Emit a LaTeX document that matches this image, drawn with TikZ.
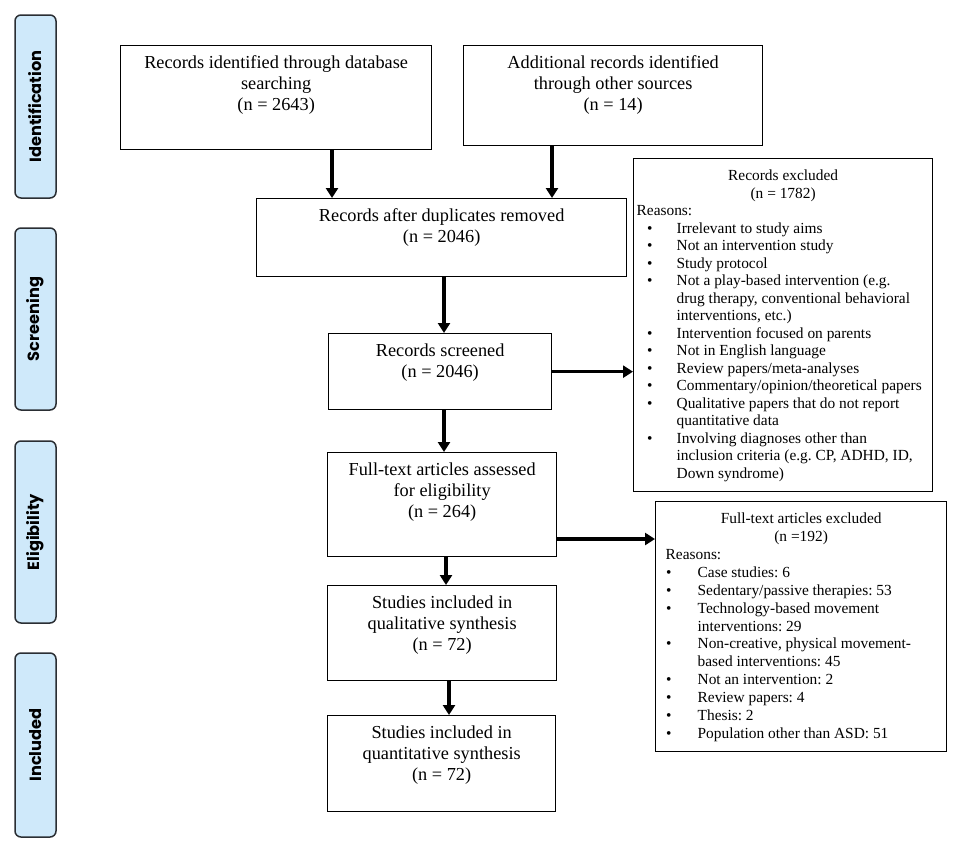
\documentclass[tikz,border=0pt]{standalone}
\usepackage{fontspec}
\setmainfont{Liberation Serif}
\newfontfamily\sidefont{Poppins}
\usetikzlibrary{arrows.meta}
\definecolor{sideblue}{HTML}{CFE9FA}
\definecolor{sideedge}{HTML}{2A2E33}
\frenchspacing
\newlength\bulind
\newlength\txtind
\newcommand\bul[1]{\par\hangindent=\txtind\hangafter=1\noindent\makebox[\txtind][l]{\hspace{\bulind}\textbullet}#1}
\newcommand\mainbox[3]{\begin{minipage}[t][#2pt][t]{#1pt}\centering\fontsize{18.3}{21}\selectfont\vspace*{8pt}\strut #3\end{minipage}}
\tikzset{
  flow/.style={draw=black, line width=1.3pt, inner sep=0pt, anchor=north west},
  sidebox/.style={draw=sideedge, line width=1.5pt, fill=sideblue, rounded corners=6pt,
    inner sep=0pt, rotate=90, font=\sidefont\bfseries\fontsize{16.2}{19}\selectfont},
  arr/.style={line width=3.2pt, -{Triangle[width=12pt,length=10pt]}}
}
\begin{document}
\begin{tikzpicture}[x=1pt,y=-1pt]
\fill[white] (0,0) rectangle (957,846);
\useasboundingbox (0,0) rectangle (957,846);

% side labels
\node[sidebox, minimum width=183, minimum height=41] (s1) at (35.5,106.5) {Identification};
\node[sidebox, minimum width=182, minimum height=41] (s2) at (35.5,319) {Screening};
\node[sidebox, minimum width=182, minimum height=41] (s3) at (35.5,532) {Eligibility};
\node[sidebox, minimum width=184, minimum height=41] (s4) at (35.5,745) {Included};

% main flow
\node[flow] (A) at (120,45) {\mainbox{311}{104}{Records identified through database\\searching\\(n = 2643)}};
\node[flow] (B) at (463,45) {\mainbox{299}{100}{Additional records identified\\through other sources\\(n = 14)}};
\node[flow] (C) at (256,198) {\mainbox{370}{78}{Records after duplicates removed\\(n = 2046)}};
\node[flow] (D) at (328,333) {\mainbox{223}{76}{Records screened\\(n = 2046)}};
\node[flow] (E) at (327,452) {\mainbox{229}{104}{Full-text articles assessed\\for eligibility\\(n = 264)}};
\node[flow] (F) at (327,585) {\mainbox{229}{95}{Studies included in\\qualitative synthesis\\(n = 72)}};
\node[flow] (G) at (327,715) {\mainbox{228}{96}{Studies included in\\quantitative synthesis\\(n = 72)}};

% exclusion boxes
\node[flow, minimum width=299] (X1) at (633,158) {%
\begin{minipage}[t][333pt][t]{293pt}\fontsize{15.4}{17.5}\selectfont
\setlength\bulind{10.5pt}\setlength\txtind{40pt}\raggedright
\vspace*{9.7pt}
{\centering\strut Records excluded\\(n = 1782)\par}
\noindent Reasons:
\bul{Irrelevant to study aims}
\bul{Not an intervention study}
\bul{Study protocol}
\bul{Not a play-based intervention (e.g.\newline drug therapy, conventional behavioral\newline interventions, etc.)}
\bul{Intervention focused on parents}
\bul{Not in English language}
\bul{Review papers/meta-analyses}
\bul{Commentary/opinion/theoretical papers}
\bul{Qualitative papers that do not report\newline quantitative data}
\bul{Involving diagnoses other than\newline inclusion criteria (e.g. CP, ADHD, ID,\newline Down syndrome)}\par
\end{minipage}};

\node[flow, minimum width=291] (X2) at (655,501) {%
\begin{minipage}[t][250pt][t]{271pt}\fontsize{15.4}{17.9}\selectfont
\setlength\bulind{0.5pt}\setlength\txtind{32pt}\raggedright
\vspace*{9.5pt}
{\centering\strut Full-text articles excluded\\(n =192)\par}
\noindent Reasons:
\bul{Case studies: 6}
\bul{Sedentary/passive therapies: 53}
\bul{Technology-based movement\newline interventions: 29}
\bul{Non-creative, physical movement-\newline based interventions: 45}
\bul{Not an intervention: 2}
\bul{Review papers: 4}
\bul{Thesis: 2}
\bul{Population other than ASD: 51}\par
\end{minipage}};

% connectors
\draw[arr] (332,0 |- A.south) -- (332,0 |- C.north);
\draw[arr] (552,0 |- B.south) -- (552,0 |- C.north);
\draw[arr] (444,0 |- C.south) -- (444,0 |- D.north);
\draw[arr] (D.east) -- (D.east -| X1.west);
\draw[arr] (444,0 |- D.south) -- (444,0 |- E.north);
\draw[arr] (E.east |- 0,539) -- (X2.west |- 0,539);
\draw[arr] (446,0 |- E.south) -- (446,0 |- F.north);
\draw[arr] (449,0 |- F.south) -- (449,0 |- G.north);
\end{tikzpicture}
\end{document}
